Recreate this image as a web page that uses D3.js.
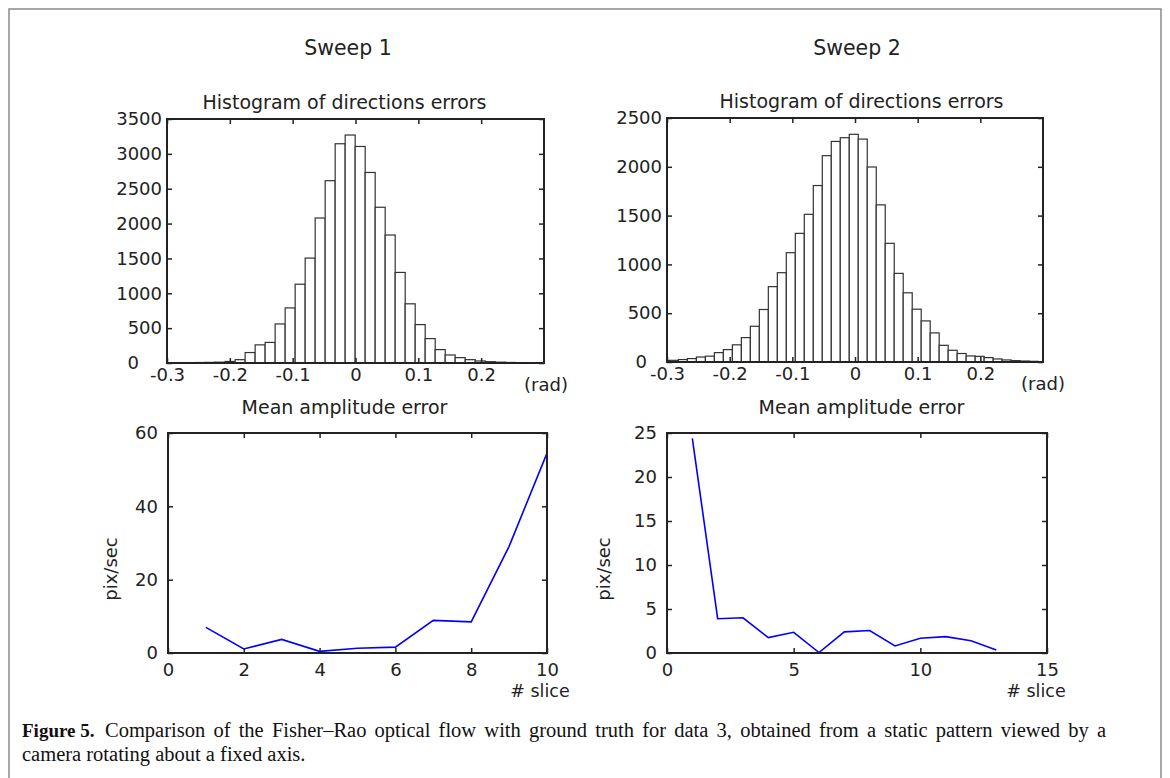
<!DOCTYPE html>
<html>
<head>
<meta charset="utf-8">
<script src="https://cdn.jsdelivr.net/npm/d3@7"></script>
<style>
	body { margin: 0; background: #fff; }
	svg text { font-family: "DejaVu Sans", sans-serif; fill: #222; }
	.tick text { font-size: 18px; }
	.caption text { font-family: "Liberation Serif", serif; font-size: 20.5px; fill: #111; }
</style>
</head>
<body>
<svg id="fig" width="1170" height="778"></svg>
<script>
// histogram counts (bin edges in rad)
const sweep1BinStart = -0.303;
const sweep1BinWidth = 0.01592;
const sweep1Counts = [3, 4, 5, 7, 9, 12, 22, 48,
	150, 260, 295, 560, 790, 1130, 1505, 2080, 2615, 3145, 3270,
	3106, 2733, 2234, 1836, 1299, 849, 551, 350, 192, 115, 77, 48, 29, 19, 12, 8, 6];

const sweep2BinStart = -0.3105;
const sweep2BinWidth = 0.01435;
const sweep2Counts = [15, 17, 25, 35, 51, 60, 96, 127, 176, 250, 366, 538, 772, 915, 1120,
	1318, 1513, 1808, 2114, 2260, 2298, 2333,
	2284, 1998, 1610, 1216, 908, 709, 541, 421, 298, 171, 120, 87, 62, 58, 45, 31, 21, 14, 10, 7];

const histTicksX = [-0.3, -0.2, -0.1, 0, 0.1, 0.2];
const sweep1TicksY = [0, 500, 1000, 1500, 2000, 2500, 3000, 3500];
const sweep2TicksY = [0, 500, 1000, 1500, 2000, 2500];

// mean amplitude error per slice
const sweep1Slices = [1, 2, 3, 4, 5, 6, 7, 8, 9, 10];
const sweep1Amp = [7.0, 1.1, 3.7, 0.45, 1.3, 1.6, 8.9, 8.5, 29.1, 54.5];
const sweep2Slices = [1, 2, 3, 4, 5, 6, 7, 8, 9, 10, 11, 12, 13];
const sweep2Amp = [24.4, 3.9, 4.0, 1.75, 2.35, 0.05, 2.4, 2.55, 0.8, 1.67, 1.86, 1.4, 0.35];

const sweep1TicksSlice = [0, 2, 4, 6, 8, 10];
const sweep1TicksAmp = [0, 20, 40, 60];
const sweep2TicksSlice = [0, 5, 10, 15];
const sweep2TicksAmp = [0, 5, 10, 15, 20, 25];

const svg = d3.select("#fig");

function Panel() {
	this.selection = function (selection) {
		this._selection = selection.append("g");
		return this;
	};

	this.box = function (box) {
		this._box = box;
		return this;
	};

	this.scales = function (xDomain, yDomain) {
		this._x = d3.scaleLinear().domain(xDomain).range([this._box.l, this._box.r]);
		this._y = d3.scaleLinear().domain(yDomain).range([this._box.b, this._box.t]);
		return this;
	};

	this.ticks = function (xTicks, yTicks, padX, padY) {
		this._xTicks = xTicks;
		this._yTicks = yTicks;
		this._padX = padX;
		this._padY = padY;
		return this;
	};

	this.drawBars = function (counts, start, width) {
		let b = this._box;
		let id = "clip" + Math.round(b.l);
		this._selection
			.append("clipPath")
			.attr("id", id)
			.append("rect")
			.attr("x", b.l)
			.attr("y", b.t)
			.attr("width", b.r - b.l)
			.attr("height", b.b - b.t);
		this._selection
			.append("g")
			.attr("clip-path", `url(#${id})`)
			.selectAll("rect")
			.data(counts)
			.join("rect")
			.attr("x", (d, i) => this._x(start + i * width))
			.attr("width", (d, i) => this._x(start + (i + 1) * width) - this._x(start + i * width))
			.attr("y", (d) => this._y(d))
			.attr("height", (d) => this._y(0) - this._y(d))
			.attr("fill", "#fff")
			.attr("stroke", "#333")
			.attr("stroke-width", 1.2);
		return this;
	};

	this.drawLine = function (xs, ys) {
		let line = d3
			.line()
			.x((d) => this._x(d[0]))
			.y((d) => this._y(d[1]));
		this._selection
			.append("path")
			.datum(d3.zip(xs, ys))
			.attr("d", line)
			.attr("fill", "none")
			.attr("stroke", "#0000ff")
			.attr("stroke-width", 1.6);
		return this;
	};

	this.drawAxes = function () {
		let b = this._box;
		let fmt = (d) => String(d);
		let axes = this._selection.append("g").attr("color", "#222");

		axes.append("g")
			.attr("transform", `translate(0, ${b.b})`)
			.call(d3.axisBottom(this._x).tickValues(this._xTicks).tickSize(-5).tickPadding(this._padX).tickFormat(fmt));
		axes.append("g")
			.attr("transform", `translate(0, ${b.t})`)
			.call(d3.axisTop(this._x).tickValues(this._xTicks).tickSize(-5).tickFormat(""));
		this._yAxis = axes.append("g")
			.attr("transform", `translate(${b.l}, 0)`)
			.call(d3.axisLeft(this._y).tickValues(this._yTicks).tickSize(-5).tickPadding(this._padY).tickFormat(fmt));
		axes.append("g")
			.attr("transform", `translate(${b.r}, 0)`)
			.call(d3.axisRight(this._y).tickValues(this._yTicks).tickSize(-5).tickFormat(""));

		axes.selectAll(".domain").remove();
		axes.selectAll(".tick line").attr("stroke-width", 1.5);

		axes.append("rect")
			.attr("x", b.l)
			.attr("y", b.t)
			.attr("width", b.r - b.l)
			.attr("height", b.b - b.t)
			.attr("fill", "none")
			.attr("stroke", "#222")
			.attr("stroke-width", 2);
		return this;
	};

	// the zero label of the histograms sits further left
	this.shiftZero = function (dx) {
		this._yAxis
			.selectAll(".tick text")
			.filter((d) => d === 0)
			.attr("x", -dx);
		return this;
	};

	this.label = function (text, x, y, size, rotate) {
		let t = this._selection
			.append("text")
			.attr("text-anchor", "middle")
			.attr("font-size", size)
			.text(text);
		if (rotate) t.attr("transform", `translate(${x}, ${y}) rotate(-90)`);
		else t.attr("x", x).attr("y", y);
		return this;
	};
}

// figure frame
svg.append("rect")
	.attr("x", 9)
	.attr("y", 9)
	.attr("width", 1152)
	.attr("height", 820)
	.attr("fill", "none")
	.attr("stroke", "#8a8a8a")
	.attr("stroke-width", 1.5);

svg.append("text").attr("x", 348).attr("y", 55).attr("text-anchor", "middle").attr("font-size", 20.5).text("Sweep 1");
svg.append("text").attr("x", 857).attr("y", 55).attr("text-anchor", "middle").attr("font-size", 20.5).text("Sweep 2");

new Panel()
	.selection(svg)
	.box({ l: 167, r: 544, t: 119, b: 363 })
	.scales([-0.3, 0.3], [0, 3500])
	.ticks(histTicksX, sweep1TicksY, 5, 5)
	.drawBars(sweep1Counts, sweep1BinStart, sweep1BinWidth)
	.drawAxes()
	.shiftZero(28)
	.label("Histogram of directions errors", 344.5, 109, 19)
	.label("(rad)", 546, 391, 18);

new Panel()
	.selection(svg)
	.box({ l: 667, r: 1043, t: 118, b: 362 })
	.scales([-0.3, 0.3], [0, 2500])
	.ticks(histTicksX, sweep2TicksY, 5, 5)
	.drawBars(sweep2Counts, sweep2BinStart, sweep2BinWidth)
	.drawAxes()
	.shiftZero(20)
	.label("Histogram of directions errors", 861.5, 108, 19)
	.label("(rad)", 1043, 390, 18);

new Panel()
	.selection(svg)
	.box({ l: 168, r: 547, t: 433, b: 653 })
	.scales([0, 10], [0, 60])
	.ticks(sweep1TicksSlice, sweep1TicksAmp, 10, 10)
	.drawLine(sweep1Slices, sweep1Amp)
	.drawAxes()
	.label("Mean amplitude error", 344.5, 414, 19)
	.label("# slice", 540, 697, 17.5)
	.label("pix/sec", 117, 569, 18, true);

new Panel()
	.selection(svg)
	.box({ l: 667, r: 1047, t: 433, b: 653 })
	.scales([0, 15], [0, 25])
	.ticks(sweep2TicksSlice, sweep2TicksAmp, 10, 10)
	.drawLine(sweep2Slices, sweep2Amp)
	.drawAxes()
	.label("Mean amplitude error", 861.5, 414, 19)
	.label("# slice", 1036, 697, 17.5)
	.label("pix/sec", 610, 569, 18, true);

// caption, first line justified to the frame width
let caption = svg.append("g").classed("caption", true);
let line1 = caption.append("text").attr("x", 22).attr("y", 737);
let bold = line1.append("tspan").attr("font-weight", "bold").attr("font-size", 19).text("Figure 5.");
let rest = line1.append("tspan").text("Comparison of the Fisher\u2013Rao optical flow with ground truth for data 3, obtained from a static pattern viewed by a");
rest.attr("dx", 105 - 22 - bold.node().getComputedTextLength());
let gaps = rest.text().split(" ").length - 1;
let extra = (1106 - 105 - rest.node().getComputedTextLength()) / gaps;
rest.attr("word-spacing", Math.max(0, extra));
caption.append("text").attr("x", 22).attr("y", 761).text("camera rotating about a fixed axis.");
</script>
</body>
</html>
